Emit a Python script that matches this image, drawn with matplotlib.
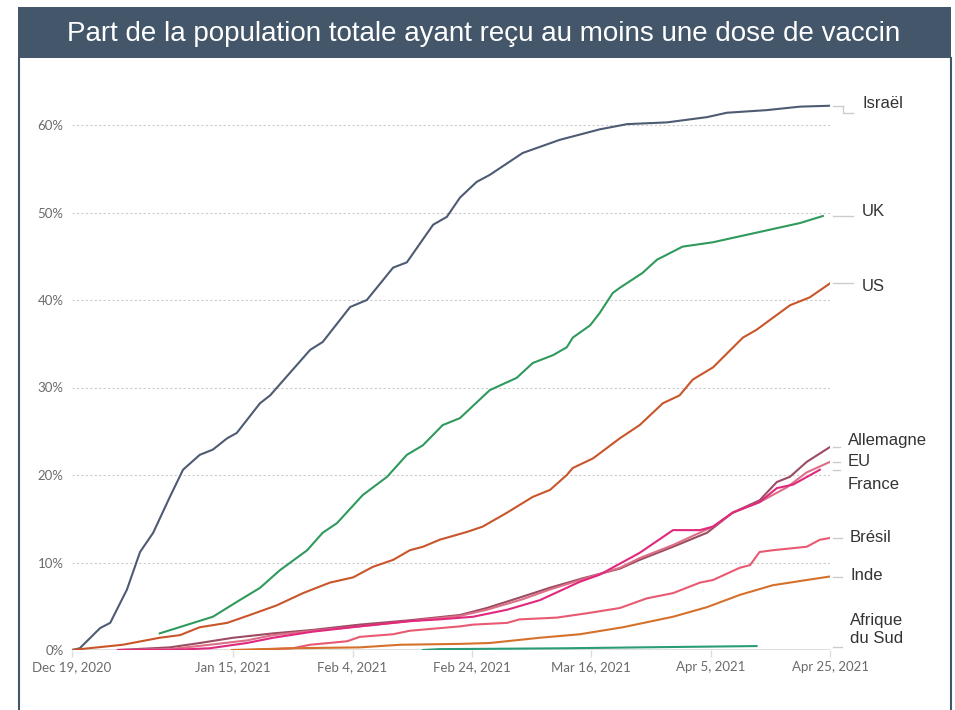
import numpy as np
import matplotlib
matplotlib.use("Agg")
import matplotlib.pyplot as plt
from matplotlib.patches import Rectangle
from matplotlib.lines import Line2D
import matplotlib.transforms as mtransforms

TITLE = "Part de la population totale ayant reçu au moins une dose de vaccin"
START = np.datetime64("2020-12-19")

# --- data: days since Dec 19, 2020 and % of population with at least one dose
israel_d = [0, 1.3, 4.7, 6.4, 9.2, 11.4, 13.6, 16.4, 18.6, 21.4, 23.6, 26, 27.6, 31.5, 33.2, 35, 39.9, 42, 46.6, 49.4, 53.8, 56.1, 60.5, 62.8, 65, 67.8, 70, 75.5, 81.7, 88.4, 93, 99.7, 106.4, 109.7, 116.4, 122, 127]
israel_v = [0, 0.2, 2.5, 3.1, 6.9, 11.2, 13.4, 17.5, 20.6, 22.3, 22.9, 24.2, 24.8, 28.2, 29.1, 30.5, 34.3, 35.2, 39.2, 40.0, 43.7, 44.3, 48.6, 49.5, 51.7, 53.5, 54.3, 56.8, 58.3, 59.5, 60.1, 60.3, 60.9, 61.4, 61.7, 62.1, 62.2]

uk_d = [14.7, 23.6, 28.1, 31.5, 34.8, 39.4, 42, 44.4, 48.7, 52.8, 56.1, 58.8, 62.1, 65, 70, 74.5, 77.2, 80.6, 82.9, 83.9, 86.8, 88.4, 90.6, 91.8, 95.6, 98, 102.3, 107.4, 110.7, 114.7, 122, 125.8]
uk_v = [1.9, 3.8, 5.7, 7.1, 9.1, 11.4, 13.4, 14.5, 17.7, 19.8, 22.3, 23.4, 25.7, 26.5, 29.7, 31.1, 32.8, 33.7, 34.6, 35.7, 37.1, 38.5, 40.8, 41.4, 43.1, 44.6, 46.1, 46.6, 47.1, 47.7, 48.8, 49.6]

us_d = [0, 8.5, 14.7, 18.1, 21.4, 26, 29.8, 34.3, 38.7, 43.2, 47.1, 50.4, 53.8, 56.6, 58.8, 61.6, 66.2, 68.8, 72.9, 77.2, 80.1, 82.9, 83.9, 87.3, 91.8, 95.1, 99, 101.8, 104, 105.2, 107.4, 112.4, 114.7, 120.3, 123.6, 127]
us_v = [0, 0.6, 1.4, 1.7, 2.6, 3.1, 4.0, 5.1, 6.5, 7.7, 8.3, 9.5, 10.3, 11.4, 11.8, 12.6, 13.5, 14.1, 15.7, 17.5, 18.3, 20.0, 20.8, 21.9, 24.2, 25.7, 28.2, 29.1, 30.9, 31.4, 32.3, 35.7, 36.6, 39.4, 40.3, 41.9]

de_d = [7.7, 16.4, 21.4, 27, 33.7, 40.4, 48.2, 56.6, 65, 69.5, 75.5, 80, 85.6, 91.8, 95.1, 100.7, 106.4, 110.7, 115.2, 118.1, 120.3, 123.1, 127]
de_v = [0, 0.3, 0.8, 1.4, 1.9, 2.3, 2.9, 3.4, 4.0, 4.8, 6.1, 7.1, 8.2, 9.3, 10.3, 11.8, 13.4, 15.7, 17.1, 19.2, 19.8, 21.5, 23.2]

eu_d = [7.7, 16.4, 23.1, 29.3, 33.7, 40.4, 48.2, 56.6, 65, 69.5, 75.5, 80, 85.6, 91.8, 95.1, 100.7, 107.4, 110.7, 115.2, 119.8, 123.1, 127]
eu_v = [0, 0.1, 0.6, 1.1, 1.7, 2.2, 2.7, 3.3, 3.9, 4.6, 5.8, 6.9, 8.1, 9.4, 10.5, 12.0, 14.1, 15.7, 16.9, 18.6, 20.3, 21.5]

fr_d = [7.7, 16.4, 23.1, 29.3, 33.7, 40.4, 48.2, 56.6, 61.6, 67.2, 72.9, 78.4, 85.1, 88.4, 95.1, 100.7, 105.2, 107.4, 110.7, 115.2, 118.1, 120.8, 125.3]
fr_v = [0, 0, 0.2, 0.8, 1.4, 2.1, 2.7, 3.3, 3.5, 3.8, 4.6, 5.7, 7.8, 8.6, 11.1, 13.7, 13.7, 14.1, 15.7, 16.9, 18.5, 18.9, 20.6]

br_d = [29.8, 37, 39.9, 46.1, 48.2, 53.8, 56.6, 65, 67.2, 72.9, 75, 81.2, 86.3, 91.8, 96.3, 100.7, 105.2, 107.4, 111.9, 113.6, 115.2, 117.4, 123.1, 125.3, 127]
br_v = [0, 0.2, 0.6, 1.0, 1.5, 1.8, 2.2, 2.7, 2.9, 3.1, 3.5, 3.7, 4.2, 4.8, 5.9, 6.5, 7.7, 8.0, 9.4, 9.7, 11.2, 11.4, 11.8, 12.6, 12.8]

in_d = [26.8, 37, 48.2, 55, 65, 70, 78.4, 85.1, 92.3, 100.7, 106.4, 111.9, 117.4, 123.1, 127]
in_v = [0, 0.2, 0.3, 0.6, 0.7, 0.8, 1.4, 1.8, 2.6, 3.8, 4.9, 6.3, 7.4, 8.0, 8.4]

za_d = [58.8, 61.6, 72.9, 82.9, 95.1, 114.7]
za_v = [0, 0.1, 0.15, 0.2, 0.3, 0.45]

names = ["Israël", "UK", "US", "Allemagne", "EU", "France", "Brésil", "Inde", "Afrique\ndu Sud"]
colors = ["#4d5b73", "#2f9a5c", "#c9552a", "#9b4b62", "#dc6e86", "#e0287c", "#e95a72", "#d6712c", "#2b9c78"]
series_d = [israel_d, uk_d, us_d, de_d, eu_d, fr_d, br_d, in_d, za_d]
series_v = [israel_v, uk_v, us_v, de_v, eu_v, fr_v, br_v, in_v, za_v]
label_y = [62.5, 50.1, 41.5, 24.0, 21.5, 18.9, 12.8, 8.5, 2.3]
label_x = [862, 862, 862, 848, 848, 848, 850, 850, 850]

tick_days = [0, 27, 47, 67, 87, 107, 127]
tick_labels = ["Dec 19, 2020", "Jan 15, 2021", "Feb 4, 2021", "Feb 24, 2021", "Mar 16, 2021", "Apr 5, 2021", "Apr 25, 2021"]
y_ticks = [0, 10, 20, 30, 40, 50, 60]
y_labels = ["0%", "10%", "20%", "30%", "40%", "50%", "60%"]

W, H = 955, 710
fig = plt.figure(figsize=(W / 100, H / 100), dpi=100)
fig.patch.set_facecolor("white")

def fx(px):
    return px / W

def fy(py):
    return 1 - py / H

SLATE = "#44566a"
# title bar and panel border
fig.patches.append(Rectangle((fx(18), fy(58)), fx(951) - fx(18), fy(7) - fy(58),
                             transform=fig.transFigure, facecolor=SLATE, edgecolor="none", zorder=0))
fig.lines.append(Line2D([fx(18.5), fx(18.5)], [fy(58), 0], transform=fig.transFigure, color=SLATE, lw=1.5))
fig.lines.append(Line2D([fx(950.5), fx(950.5)], [fy(58), 0], transform=fig.transFigure, color=SLATE, lw=1.5))
fig.text(fx(484), fy(34), TITLE, ha="center", va="center", color="white",
         fontsize=20, family="Liberation Sans")

ax = fig.add_axes([fx(72), fy(650), fx(830) - fx(72), fy(90) - fy(650)])
ax.set_facecolor("none")
to_dates = lambda d: START + (np.array(d) * 24 * 3600).astype("timedelta64[s]")

for d, v, c in zip(series_d, series_v, colors):
    ax.plot(to_dates(d), v, color=c, lw=1.5, solid_joinstyle="round", zorder=3)

ax.set_xlim(START, START + np.timedelta64(127, "D"))
ax.set_ylim(0, 64)

ax.set_yticks(y_ticks)
ax.set_yticklabels(y_labels)
ax.set_xticks(to_dates(tick_days))
ax.set_xticklabels(tick_labels)
for s in ax.spines.values():
    s.set_visible(False)
ax.axhline(0, color="#dddddd", lw=2, zorder=1)
ax.grid(axis="y", color="#cccccc", linestyle=(0, (2, 2)), lw=0.8)
ax.tick_params(axis="y", length=0, pad=6, labelsize=9.5, labelcolor="#6b6b6b")
ax.tick_params(axis="x", length=5, width=1, color="#dddddd", pad=3, labelsize=9.5, labelcolor="#6b6b6b")
for lab in ax.get_xticklabels() + ax.get_yticklabels():
    lab.set_family("Lato")

trans = mtransforms.blended_transform_factory(fig.transFigure, ax.transData)
for name, yl, xl, v in zip(names, label_y, label_x, series_v):
    fig.text(fx(xl), yl, name, transform=trans, ha="left", va="center",
             fontsize=12, color="#333333", family="Liberation Sans", linespacing=1.25)

# leader lines
lead = [(833, 843, 62.2), (833, 853, 49.6), (833, 853, 41.9), (833, 840, 23.2), (833, 840, 21.5),
        (833, 840, 20.6), (833, 842, 12.8), (833, 842, 8.4), (833, 842, 0.35)]
for x0, x1, yv in lead:
    fig.lines.append(Line2D([fx(x0), fx(x1)], [yv, yv], transform=trans, color="#cccccc", lw=1))
fig.lines.append(Line2D([fx(843), fx(843), fx(853)], [62.2, 61.4, 61.4], transform=trans, color="#cccccc", lw=1))

fig.savefig("out.png", dpi=100)
